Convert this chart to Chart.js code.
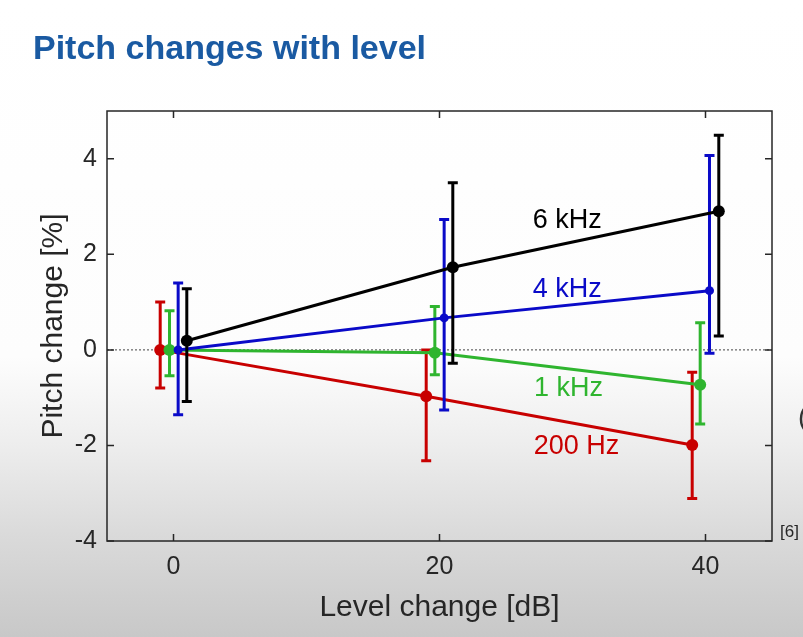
<!DOCTYPE html>
<html>
<head>
<meta charset="utf-8">
<script src="https://cdn.jsdelivr.net/npm/chart.js@4.4.1/dist/chart.umd.min.js"></script>
<style>
  html, body { margin: 0; padding: 0; }
  body {
    width: 803px; height: 637px; overflow: hidden; position: relative;
    background: linear-gradient(to bottom, #ffffff 0%, #fdfdfd 56%, #ededed 70%, #dadada 84%, #c8c8c8 100%);
    font-family: "Liberation Sans", Arial, sans-serif;
  }
  #title {
    position: absolute; left: 33px; top: 30px;
    font: bold 34px/34px "Liberation Sans", Arial, sans-serif;
    color: #1a5aa2; white-space: nowrap;
  }
  #ref {
    position: absolute; left: 780px; top: 522px;
    font: 17px/20px "Liberation Sans", Arial, sans-serif; color: #262626;
  }
  #cut {
    position: absolute; left: 798px; top: 402px;
    font: 28px/30px "Liberation Sans", Arial, sans-serif; color: #333;
  }
  #wrap { position: absolute; left: 0; top: 0; width: 803px; height: 637px; }
</style>
</head>
<body>
<div id="wrap"><canvas id="pitch"></canvas></div>
<div id="title">Pitch changes with level</div>
<div id="ref">[6]</div>
<div id="cut">(</div>
<script>
// tick values
const xTicks = [0, 20, 40]
const yTicks = [-4, -2, 0, 2, 4]

// 200 Hz
const hz200X = [-1, 19, 39]
const hz200Y = [0, -0.97, -1.99]
const hz200Lo = [-0.8, -2.32, -3.11]
const hz200Hi = [1.0, 0.0, -0.47]

// 1 kHz
const khz1X = [-0.3, 19.65, 39.6]
const khz1Y = [0, -0.06, -0.73]
const khz1Lo = [-0.54, -0.52, -1.55]
const khz1Hi = [0.82, 0.91, 0.57]

// 4 kHz
const khz4X = [0.35, 20.35, 40.3]
const khz4Y = [0, 0.67, 1.24]
const khz4Lo = [-1.36, -1.26, -0.07]
const khz4Hi = [1.4, 2.73, 4.07]

// 6 kHz
const khz6X = [1, 21, 41]
const khz6Y = [0.19, 1.73, 2.9]
const khz6Lo = [-1.08, -0.28, 0.29]
const khz6Hi = [1.28, 3.5, 4.49]

const labels = ["200 Hz", "1 kHz", "4 kHz", "6 kHz"]

const textColor = "#262626"
const font = "\"Liberation Sans\", Arial, sans-serif"

function makeSet(label, xs, ys, lo, hi, color, radius) {
  return {
    label: label,
    data: xs.map((x, i) => ({ x: x, y: ys[i] })),
    errLo: lo,
    errHi: hi,
    borderColor: color,
    backgroundColor: color,
    borderWidth: 3,
    pointRadius: radius,
    pointHoverRadius: radius,
    pointBorderWidth: 0,
    tension: 0
  }
}

// where the curve names sit, in data units
const nameSpots = [
  { x: 30.3, y: -2.03 },
  { x: 29.7, y: -0.8 },
  { x: 29.6, y: 1.26 },
  { x: 29.6, y: 2.7 }
]

const plotBits = {
  id: "plotBits",
  beforeDatasetsDraw(chart) {
    const { ctx, chartArea: a, scales: { y } } = chart
    const y0 = y.getPixelForValue(0)
    ctx.save()
    ctx.strokeStyle = "#444"
    ctx.lineWidth = 1
    ctx.setLineDash([2, 2])
    ctx.beginPath()
    ctx.moveTo(a.left, y0)
    ctx.lineTo(a.right, y0)
    ctx.stroke()
    ctx.restore()
  },
  afterDatasetDraw(chart, args) {
    const { ctx, scales: { x, y } } = chart
    const ds = chart.data.datasets[args.index]
    ctx.save()
    ctx.strokeStyle = ds.borderColor
    ctx.lineWidth = 3
    ds.data.forEach((p, i) => {
      const px = x.getPixelForValue(p.x)
      const top = y.getPixelForValue(ds.errHi[i])
      const bot = y.getPixelForValue(ds.errLo[i])
      ctx.beginPath()
      ctx.moveTo(px, top)
      ctx.lineTo(px, bot)
      ctx.moveTo(px - 5, top)
      ctx.lineTo(px + 5, top)
      ctx.moveTo(px - 5, bot)
      ctx.lineTo(px + 5, bot)
      ctx.stroke()
    })
    ctx.restore()
  },
  afterDraw(chart) {
    const { ctx, chartArea: a, scales: { x, y } } = chart
    ctx.save()
    // box with inward ticks, like the matlab figure
    ctx.strokeStyle = textColor
    ctx.lineWidth = 1.5
    ctx.strokeRect(a.left, a.top, a.right - a.left, a.bottom - a.top)
    ctx.beginPath()
    xTicks.forEach(v => {
      const px = x.getPixelForValue(v)
      ctx.moveTo(px, a.bottom)
      ctx.lineTo(px, a.bottom - 7)
      ctx.moveTo(px, a.top)
      ctx.lineTo(px, a.top + 7)
    })
    yTicks.forEach(v => {
      const py = y.getPixelForValue(v)
      ctx.moveTo(a.left, py)
      ctx.lineTo(a.left + 7, py)
      ctx.moveTo(a.right, py)
      ctx.lineTo(a.right - 7, py)
    })
    ctx.stroke()

    // curve names
    ctx.font = "27px " + font
    ctx.textAlign = "center"
    ctx.textBaseline = "middle"
    chart.data.datasets.forEach((ds, i) => {
      const spot = nameSpots[i]
      ctx.fillStyle = ds.borderColor
      ctx.fillText(ds.label, x.getPixelForValue(spot.x), y.getPixelForValue(spot.y))
    })
    ctx.restore()
  }
}

new Chart(document.getElementById("pitch"), {
  type: "line",
  data: {
    datasets: [
      makeSet(labels[0], hz200X, hz200Y, hz200Lo, hz200Hi, "#c80000", 6),
      makeSet(labels[1], khz1X, khz1Y, khz1Lo, khz1Hi, "#2fb52f", 6),
      makeSet(labels[2], khz4X, khz4Y, khz4Lo, khz4Hi, "#0a0ac8", 4.5),
      makeSet(labels[3], khz6X, khz6Y, khz6Lo, khz6Hi, "#000000", 6)
    ].map((ds, i) => Object.assign(ds, { order: 3 - i }))
  },
  options: {
    responsive: true,
    maintainAspectRatio: false,
    animation: false,
    layout: { padding: { top: 111, right: 31, left: 0, bottom: 0 } },
    plugins: {
      legend: { display: false },
      tooltip: { enabled: false }
    },
    scales: {
      x: {
        type: "linear",
        min: -5,
        max: 45,
        afterFit: s => { s.height = 96 },
        afterBuildTicks: s => { s.ticks = xTicks.map(v => ({ value: v })) },
        grid: { display: false, drawTicks: false },
        border: { display: false },
        ticks: { color: textColor, font: { family: font, size: 25 }, padding: 11 },
        title: {
          display: true,
          text: "Level change [dB]",
          color: textColor,
          font: { family: font, size: 30 },
          padding: { top: 0, bottom: 11 }
        }
      },
      y: {
        type: "linear",
        min: -4,
        max: 5,
        afterFit: s => { s.width = 107 },
        afterBuildTicks: s => { s.ticks = yTicks.map(v => ({ value: v })) },
        grid: { display: false, drawTicks: false },
        border: { display: false },
        ticks: { color: textColor, font: { family: font, size: 25 }, padding: 10 },
        title: {
          display: true,
          text: "Pitch change [%]",
          color: textColor,
          font: { family: font, size: 30 },
          padding: { top: 36, bottom: 0 }
        }
      }
    }
  },
  plugins: [plotBits]
})
</script>
</body>
</html>
